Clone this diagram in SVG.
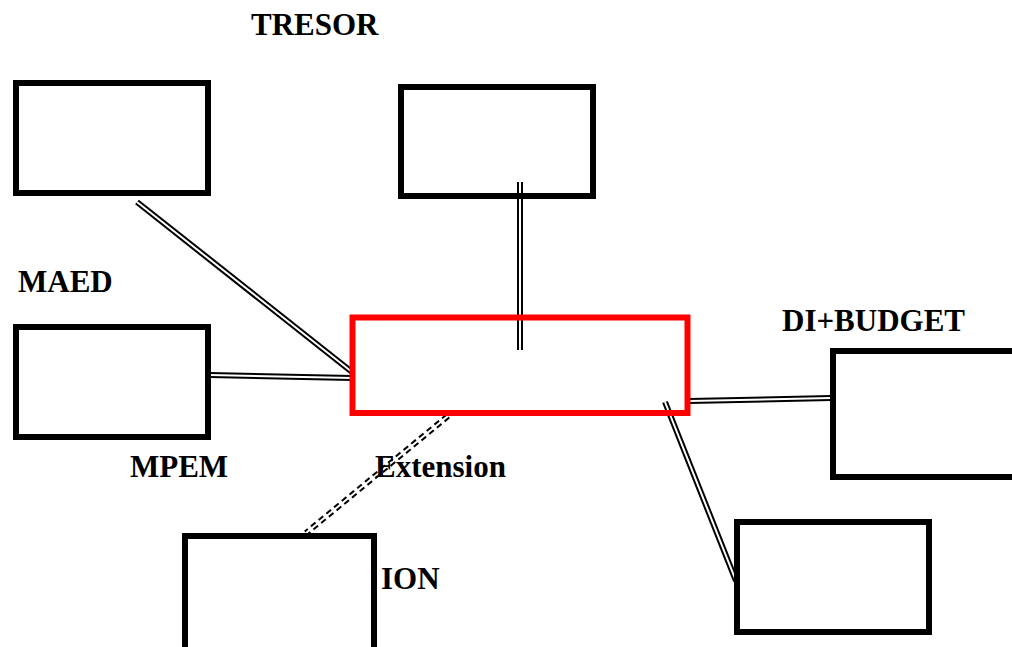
<svg xmlns="http://www.w3.org/2000/svg" width="1012" height="647" viewBox="0 0 1012 647">
<style>
.box{fill:none;stroke:#000;stroke-width:6}
.red{fill:none;stroke:#f00;stroke-width:6}
.lbl{font-family:"Liberation Serif","Times New Roman","DejaVu Serif",serif;font-weight:bold;font-size:31px;fill:#000}
.outer{stroke:#000;stroke-width:6;fill:none}
.inner{stroke:#fff;stroke-width:2;fill:none}
.dash{stroke-dasharray:6 4}
</style>
<rect width="1012" height="647" fill="#fff"/>
<g id="connectors">
<line class="outer" x1="137" y1="202" x2="352" y2="372"/>
<line class="inner" x1="137" y1="202" x2="352" y2="372"/>
<line class="outer" x1="210" y1="375" x2="352" y2="378"/>
<line class="inner" x1="210" y1="375" x2="352" y2="378"/>
<line class="outer" x1="520" y1="182" x2="520" y2="350"/>
<line class="inner" x1="520" y1="182" x2="520" y2="350"/>
<line class="outer" x1="689" y1="401" x2="831" y2="398"/>
<line class="inner" x1="689" y1="401" x2="831" y2="398"/>
<line class="outer" x1="665" y1="402" x2="736" y2="581"/>
<line class="inner" x1="665" y1="402" x2="736" y2="581"/>
<line class="outer dash" x1="448" y1="416" x2="306" y2="533"/>
<line class="inner" x1="448" y1="416" x2="306" y2="533"/>
</g>
<g id="node-topleft"><rect class="box" x="16" y="83" width="192" height="110"/></g>
<g id="node-tresor"><rect class="box" x="401" y="87" width="192" height="109"/><text class="lbl" x="251" y="35">TRESOR</text></g>
<g id="node-maed"><rect class="box" x="16" y="327" width="192" height="110"/><text class="lbl" x="18" y="292">MAED</text><text class="lbl" x="130" y="477">MPEM</text></g>
<g id="node-center"><rect class="red" x="352.5" y="317.5" width="335" height="95.5"/><text class="lbl" x="375" y="477">Extension</text></g>
<g id="node-dibudget"><rect class="box" x="833" y="351" width="190" height="126"/><text class="lbl" x="782" y="331">DI+BUDGET</text></g>
<g id="node-bottomright"><rect class="box" x="737" y="522" width="192" height="110"/></g>
<g id="node-ion"><rect class="box" x="185" y="536" width="189" height="115"/><text class="lbl" x="381" y="589">ION</text></g>
</svg>
